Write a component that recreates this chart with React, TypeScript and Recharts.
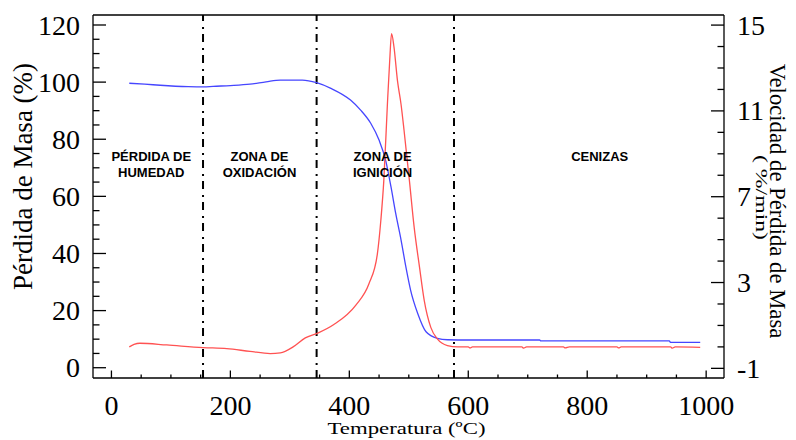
import React from 'react';
import { LineChart, Line, XAxis, YAxis, ReferenceLine, ReferenceDot, Label } from 'recharts';

// Mass remaining (%) versus temperature (ºC)
const massCurve = [
  { t: 30, v: 99.6 }, { t: 56, v: 99.3 }, { t: 82, v: 98.9 }, { t: 129, v: 98.4 },
  { t: 155, v: 98.3 }, { t: 171, v: 98.5 }, { t: 200, v: 98.8 }, { t: 233, v: 99.3 },
  { t: 260, v: 100.1 }, { t: 284, v: 100.7 }, { t: 321, v: 100.7 }, { t: 345, v: 99.8 },
  { t: 369, v: 97.8 }, { t: 402, v: 93.7 }, { t: 419, v: 90.2 }, { t: 436, v: 85.6 },
  { t: 450, v: 79.7 }, { t: 461, v: 72.7 }, { t: 470, v: 63.4 }, { t: 478, v: 54 },
  { t: 487, v: 44.7 }, { t: 495, v: 35.4 }, { t: 503, v: 27.2 }, { t: 515, v: 19 },
  { t: 529, v: 12.6 }, { t: 548, v: 10.3 }, { t: 565, v: 9.8 }, { t: 600, v: 9.7 },
  { t: 720, v: 9.7 }, { t: 722, v: 9.4 }, { t: 938, v: 9.4 }, { t: 940, v: 8.9 },
  { t: 990, v: 8.9 },
];

// Mass loss rate (%/min) versus temperature (ºC)
const rateCurve = [
  { t: 30, r: 0.0 }, { t: 38, r: 0.12 }, { t: 48, r: 0.17 }, { t: 93, r: 0.09 },
  { t: 154, r: -0.03 }, { t: 194, r: -0.08 }, { t: 233, r: -0.21 }, { t: 267, r: -0.31 },
  { t: 284, r: -0.28 }, { t: 306, r: 0.01 }, { t: 326, r: 0.42 }, { t: 346, r: 0.63 },
  { t: 374, r: 1.04 }, { t: 411, r: 1.95 }, { t: 433, r: 2.94 }, { t: 447, r: 4.3 },
  { t: 453, r: 5.9 }, { t: 458, r: 7.76 }, { t: 464, r: 11.3 }, { t: 468, r: 13.4 },
  { t: 471, r: 14.6 }, { t: 475, r: 14.0 }, { t: 481, r: 12.4 }, { t: 487, r: 11.3 },
  { t: 492, r: 10.1 }, { t: 501, r: 7.76 }, { t: 509, r: 5.58 }, { t: 518, r: 3.72 },
  { t: 526, r: 2.16 }, { t: 537, r: 0.91 }, { t: 548, r: 0.37 }, { t: 565, r: 0.06 },
  { t: 582, r: 0.0 }, { t: 600, r: 0.0 }, { t: 603, r: -0.05 }, { t: 607, r: 0.0 },
  { t: 690, r: 0.0 }, { t: 693, r: -0.06 }, { t: 698, r: 0.0 }, { t: 760, r: 0.0 },
  { t: 763, r: -0.05 }, { t: 770, r: 0.0 }, { t: 850, r: 0.0 }, { t: 853, r: -0.05 },
  { t: 857, r: 0.0 }, { t: 940, r: 0.0 }, { t: 943, r: -0.06 }, { t: 948, r: 0.0 },
  { t: 990, r: -0.02 },
];

const tempTicks = [0, 200, 400, 600, 800, 1000];
const tempAllTicks = [0, 50, 100, 150, 200, 250, 300, 350, 400, 450, 500, 550, 600, 650, 700, 750, 800, 850, 900, 950, 1000];
const massTicks = [0, 20, 40, 60, 80, 100, 120];
const massAllTicks = [0, 5, 10, 15, 20, 25, 30, 35, 40, 45, 50, 55, 60, 65, 70, 75, 80, 85, 90, 95, 100, 105, 110, 115, 120];
const rateTicks = [-1, 3, 7, 11, 15];
const rateAllTicks = [-1, 0, 1, 2, 3, 4, 5, 6, 7, 8, 9, 10, 11, 12, 13, 14, 15];

// Stage boundaries (ºC) and stage names
const zoneBounds = [154, 345, 576];
const zones = [
  { t: 67, lines: ['PÉRDIDA DE', 'HUMEDAD'] },
  { t: 249, lines: ['ZONA DE', 'OXIDACIÓN'] },
  { t: 456, lines: ['ZONA DE', 'IGNICIÓN'] },
  { t: 821, lines: ['CENIZAS'] },
];
const zoneLabelLevel = 71.2;

const SERIF = 'Liberation Serif';
const SANS = 'Liberation Sans';
const AXIS_W = 1.3;

const LeftTick = (props: any) => {
  const { x, y, payload } = props;
  const major = massTicks.includes(payload.value);
  return (
    <g>
      <line x1={x} x2={x + (major ? 13 : 6.5)} y1={y} y2={y} stroke="#000" strokeWidth={AXIS_W} />
      {major && (
        <text x={x - 13} y={y} dy="0.34em" textAnchor="end" style={{ fontFamily: SERIF, fontSize: 28 }} fill="#000">
          {payload.value}
        </text>
      )}
    </g>
  );
};

const RightTick = (props: any) => {
  const { x, y, payload } = props;
  const major = rateTicks.includes(payload.value);
  return (
    <g>
      <line x1={x} x2={x - (major ? 13 : 6.5)} y1={y} y2={y} stroke="#000" strokeWidth={AXIS_W} />
      {major && (
        <text x={x + 13} y={y} dy="0.34em" textAnchor="start" style={{ fontFamily: SERIF, fontSize: 28 }} fill="#000">
          {payload.value}
        </text>
      )}
    </g>
  );
};

const BottomTick = (props: any) => {
  const { x, y, payload } = props;
  const major = tempTicks.includes(payload.value);
  return (
    <g>
      <line x1={x} x2={x} y1={y} y2={y - (major ? 7.5 : 3.5)} stroke="#000" strokeWidth={AXIS_W} />
      {major && (
        <text x={x} y={y + 37} textAnchor="middle" style={{ fontFamily: SERIF, fontSize: 28 }} fill="#000">
          {payload.value}
        </text>
      )}
    </g>
  );
};

const TopTick = (props: any) => {
  const { x, y, payload } = props;
  const major = tempTicks.includes(payload.value);
  return <line x1={x} x2={x} y1={y} y2={y + (major ? 7.5 : 3.5)} stroke="#000" strokeWidth={AXIS_W} />;
};

const ZoneText = (lines: string[]) => (props: any) => {
  const { viewBox } = props;
  const cx = viewBox.x + viewBox.width / 2;
  const cy = viewBox.y + viewBox.height / 2;
  return (
    <text textAnchor="middle" style={{ fontFamily: SANS, fontSize: 13, fontWeight: 'bold' }} fill="#000">
      {lines.map((s, i) => (
        <tspan key={i} x={cx} y={cy - 2.9 + i * 15.4}>{s}</tspan>
      ))}
    </text>
  );
};

const MassTitle = (props: any) => {
  const { viewBox } = props;
  const x = viewBox.x + viewBox.width - 61;
  const y = viewBox.y + viewBox.height / 2 - 20;
  return (
    <text x={x} y={y} transform={`rotate(-90, ${x}, ${y})`} textAnchor="middle" style={{ fontFamily: SERIF, fontSize: 27 }} fill="#000">
      Pérdida de Masa (%)
    </text>
  );
};

const RateTitle = (props: any) => {
  const { viewBox } = props;
  const x1 = viewBox.x + 46;
  const y1 = viewBox.y + viewBox.height / 2 + 4.5;
  const x2 = viewBox.x + 31.5;
  const y2 = viewBox.y + viewBox.height / 2 + 1;
  return (
    <g>
      <text x={x1} y={y1} transform={`rotate(90, ${x1}, ${y1})`} textAnchor="middle" style={{ fontFamily: SERIF, fontSize: 22.7 }} fill="#000">
        Velocidad de Pérdida de Masa
      </text>
      <text x={x2} y={y2} transform={`rotate(90, ${x2}, ${y2})`} textAnchor="middle" style={{ fontFamily: SERIF, fontSize: 16 }} fill="#000" textLength={85} lengthAdjust="spacingAndGlyphs">
        ( %/min)
      </text>
    </g>
  );
};

const TempTitle = (props: any) => {
  const { viewBox } = props;
  const x = viewBox.x + viewBox.width / 2 - 2;
  const y = viewBox.y + 56;
  return (
    <text x={x} y={y} textAnchor="middle" style={{ fontFamily: SERIF, fontSize: 17.7 }} fill="#000" textLength={158} lengthAdjust="spacingAndGlyphs">
      Temperatura (ºC)
    </text>
  );
};

export default function App() {
  return (
    <div style={{ position: 'absolute', left: 0, top: 0, width: 796, height: 440, background: '#fff' }}>
      <LineChart width={796} height={440} margin={{ top: 0, right: 0, bottom: 0, left: 0 }}>
        <XAxis
          xAxisId="x"
          dataKey="t"
          type="number"
          domain={[-31, 1030]}
          ticks={tempAllTicks}
          interval={0}
          height={62}
          tickSize={0}
          tickMargin={0}
          tickLine={false}
          tick={BottomTick}
          axisLine={{ stroke: '#000', strokeWidth: AXIS_W }}
        >
          <Label content={TempTitle} />
        </XAxis>
        <XAxis
          xAxisId="top"
          orientation="top"
          type="number"
          domain={[-31, 1030]}
          ticks={tempAllTicks}
          interval={0}
          height={15}
          tickSize={0}
          tickMargin={0}
          tickLine={false}
          tick={TopTick}
          axisLine={{ stroke: '#000', strokeWidth: AXIS_W }}
        />
        <YAxis
          yAxisId="left"
          type="number"
          domain={[-3.6, 123.5]}
          ticks={massAllTicks}
          interval={0}
          width={93}
          tickSize={0}
          tickMargin={0}
          tickLine={false}
          tick={LeftTick}
          axisLine={{ stroke: '#000', strokeWidth: AXIS_W }}
        >
          <Label content={MassTitle} />
        </YAxis>
        <YAxis
          yAxisId="right"
          orientation="right"
          type="number"
          domain={[-1.45, 15.47]}
          ticks={rateAllTicks}
          interval={0}
          width={72}
          tickSize={0}
          tickMargin={0}
          tickLine={false}
          tick={RightTick}
          axisLine={{ stroke: '#000', strokeWidth: AXIS_W }}
        >
          <Label content={RateTitle} />
        </YAxis>

        {zoneBounds.map((t) => (
          <ReferenceLine
            key={t}
            xAxisId="x"
            yAxisId="left"
            x={t}
            stroke="#000"
            strokeWidth={2}
            strokeDasharray="8 5 2 6"
          />
        ))}

        {zones.map((z) => (
          <ReferenceDot
            key={z.t}
            xAxisId="x"
            yAxisId="left"
            x={z.t}
            y={zoneLabelLevel}
            r={0}
            fill="none"
            stroke="none"
            label={ZoneText(z.lines)}
          />
        ))}

        <Line
          xAxisId="x"
          yAxisId="left"
          data={massCurve}
          dataKey="v"
          type="monotone"
          stroke="#4646ff"
          strokeWidth={1.3}
          dot={false}
          isAnimationActive={false}
        />
        <Line
          xAxisId="x"
          yAxisId="right"
          data={rateCurve}
          dataKey="r"
          type="monotone"
          stroke="#ff5252"
          strokeWidth={1.3}
          dot={false}
          isAnimationActive={false}
        />
      </LineChart>
    </div>
  );
}
